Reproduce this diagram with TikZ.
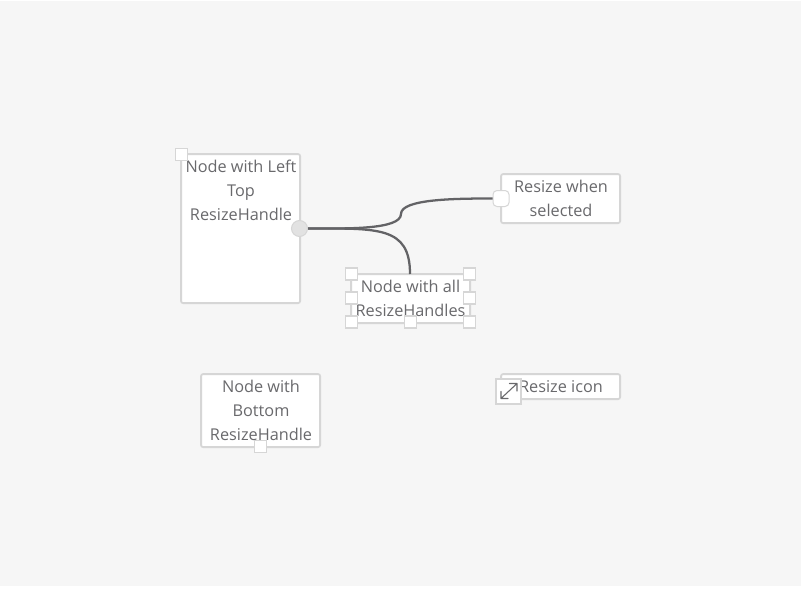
\documentclass[tikz,border=0pt]{standalone}
\usepackage{fontspec}
\setmainfont{Open Sans}
\definecolor{bgc}{HTML}{F6F6F6}
\definecolor{bord}{HTML}{D6D6D6}
\definecolor{txt}{HTML}{69696C}
\definecolor{edgec}{HTML}{636366}
\definecolor{knob}{HTML}{E2E2E2}
\tikzset{
  flownode/.style={draw=bord,line width=1.35pt,fill=white,rounded corners=1.5pt,minimum width=89.25pt,inner sep=0pt,anchor=north west},
  label/.style={text=txt,font=\fontsize{12.2}{18}\selectfont,align=center,anchor=north,inner sep=0pt},
  handle/.style={draw=bord,line width=1.35pt,fill=white,minimum size=9pt,inner sep=0pt},
  conn/.style={draw=edgec,line width=1.7pt},
}
\begin{document}
\begin{tikzpicture}[x=0.75pt,y=-0.75pt]
\useasboundingbox (0,0) rectangle (801,600);
\fill[white] (0,0) rectangle (801,600);
\fill[bgc] (0,1) rectangle (801,586);
% nodes
\node[flownode,minimum height=111.75pt] (n1) at (180.2,153.2) {};
\node[flownode,minimum height=36.75pt] (n2) at (500.2,173.2) {};
\node[flownode,minimum height=36.75pt] (n3) at (350.2,273.2) {};
\node[flownode,minimum height=54.75pt] (n4) at (200.2,373.2) {};
\node[flownode,minimum height=18.75pt] (n5) at (500.2,373.2) {};
% ports
\node[circle,draw=bord,line width=0.75pt,fill=knob,minimum size=12pt,inner sep=0pt] (p1) at (299.5,228.5) {};
\node[draw=bord,line width=0.75pt,fill=white,rounded corners=3pt,minimum size=12pt,inner sep=0pt] (p2) at (501,198.5) {};
% edges
\coordinate (t3) at (410,274);
\draw[conn] (p1.east) .. controls (345,228.5) and (401,230) .. (401,214) .. controls (401,199) and (455,198.5) .. (p2.west);
\draw[conn] (p1.east) .. controls (378,228.5) and (410,226) .. (t3);
% labels
\node[label] (l1) at (241,160) {Node with Left\\Top\\ResizeHandle};
\node[label] (l2) at (561,180) {Resize when\\selected};
\node[label] (l3) at (410.5,280) {Node with all\\ResizeHandles};
\node[label] (l4) at (261,380) {Node with\\Bottom\\ResizeHandle};
\node[label] (l5) at (561,380) {Resize icon};
% handles
\node[handle] (h1) at (181.5,154.5) {};
\node[handle] (h2) at (351.5,274) {};
\node[handle] (h3) at (469.5,274) {};
\node[handle] (h4) at (351.5,298) {};
\node[handle] (h5) at (469.5,298) {};
\node[handle] (h6) at (351.5,322) {};
\node[handle] (h7) at (410.5,322) {};
\node[handle] (h8) at (469.5,322) {};
\node[handle] (h9) at (260.5,446.5) {};
\node[handle,minimum size=18.75pt] (h10) at (508.5,391.5) {};
\draw[txt,line width=0.8pt,line cap=round,line join=round]
  (501,398.5) -- (517,383.5)
  (509.5,383.5) -- (517,383.5) -- (517,391)
  (501,391.5) -- (501,398.5) -- (508,398.5);
\end{tikzpicture}
\end{document}
